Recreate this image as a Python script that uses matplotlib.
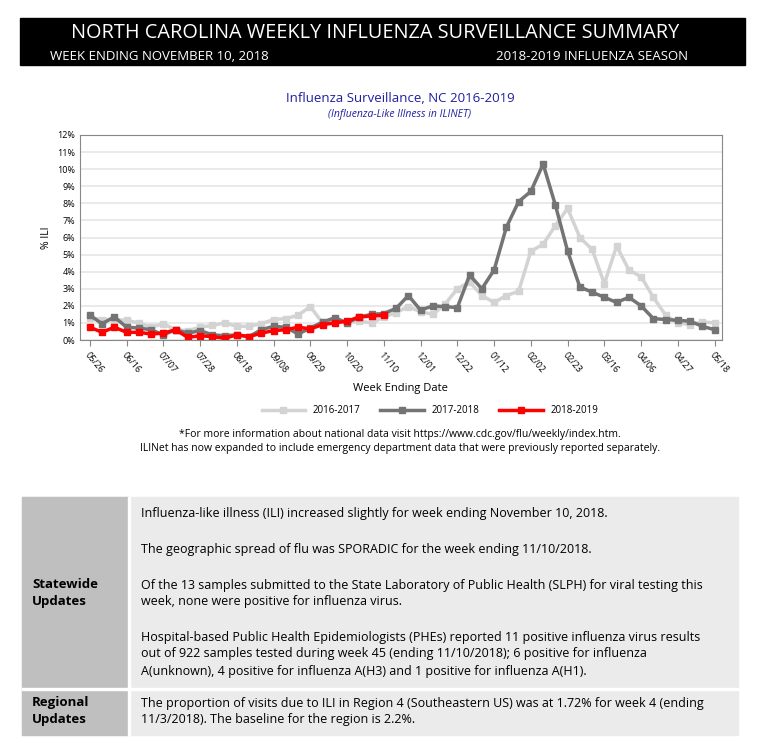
import numpy as np
import matplotlib.pyplot as plt
from matplotlib.patches import Rectangle

plt.rcParams['font.family'] = ['Open Sans', 'DejaVu Sans']

weeks = ['05/26', '06/16', '07/07', '07/28', '08/18', '09/08', '09/29', '10/20', '11/10',
         '12/01', '12/22', '01/12', '02/02', '02/23', '03/16', '04/06', '04/27', '05/18']

ili_2016 = [1.3, 1.2, 1.2, 1.15, 1.0, 0.75, 0.95, 0.6, 0.55, 0.75, 0.85, 1.0, 0.8, 0.8, 0.95, 1.2,
            1.25, 1.45, 1.95, 1.0, 1.2, 1.05, 1.1, 1.0, 1.35, 1.6, 1.95, 1.65, 1.5, 2.1, 3.0, 3.4,
            2.6, 2.2, 2.6, 2.85, 5.2, 5.6, 6.7, 7.7, 6.0, 5.3, 3.3, 5.5, 4.1, 3.7, 2.5, 1.45,
            1.0, 0.9, 1.05, 1.0]
ili_2017 = [1.45, 0.95, 1.35, 0.75, 0.7, 0.6, 0.3, 0.6, 0.4, 0.55, 0.3, 0.25, 0.3, 0.2, 0.6, 0.8,
            0.75, 0.35, 0.7, 1.05, 1.3, 1.0, 1.35, 1.5, 1.55, 1.85, 2.6, 1.75, 2.0, 1.95, 1.9, 3.8,
            3.0, 4.1, 6.6, 8.1, 8.7, 10.3, 7.9, 5.2, 3.1, 2.8, 2.5, 2.2, 2.5, 2.0, 1.25, 1.2,
            1.15, 1.1, 0.8, 0.6]
ili_2018 = [0.75, 0.45, 0.75, 0.45, 0.45, 0.35, 0.4, 0.6, 0.15, 0.25, 0.2, 0.1, 0.3, 0.2, 0.4,
            0.55, 0.6, 0.75, 0.65, 0.9, 1.0, 1.1, 1.35, 1.4, 1.45]

W, H = 764, 743
def fx(x): return x / W
def fy(y): return 1 - y / H

fig = plt.figure(figsize=(W / 100, H / 100), dpi=100)

# header bar
fig.patches.append(Rectangle((fx(20), fy(65)), fx(725), 47 / H, transform=fig.transFigure,
                             color='black', zorder=0))
fig.text(fx(375), fy(33), 'NORTH CAROLINA WEEKLY INFLUENZA SURVEILLANCE SUMMARY', color='white',
         fontsize=14.3, ha='center', va='center')
fig.text(fx(50), fy(56), 'WEEK ENDING NOVEMBER 10, 2018', color='white', fontsize=9.5, va='center')
fig.text(fx(688), fy(56), '2018-2019 INFLUENZA SEASON', color='white', fontsize=9.5, va='center', ha='right')

fig.text(fx(400), fy(99), 'Influenza Surveillance, NC 2016-2019', color='#1f1f9f', fontsize=9.5,
         ha='center', va='center')
fig.text(fx(400), fy(115), '(Influenza-Like Illness in ILINET)', color='#1f1f9f', fontsize=7.5,
         style='italic', ha='center', va='center')

ax = fig.add_axes([fx(80), fy(340), (722 - 80) / W, (340 - 135) / H])
x = np.arange(len(ili_2016))
ax.plot(x, ili_2016, color='#d3d3d3', lw=2.5, marker='s', ms=5, label='2016-2017')
ax.plot(x, ili_2017, color='#747474', lw=2.5, marker='s', ms=5, label='2017-2018')
ax.plot(np.arange(len(ili_2018)), ili_2018, color='#ff0000', lw=2.5, marker='s', ms=5, label='2018-2019')
ax.set_xlim(-0.8, 51.6)
ax.set_ylim(0, 12)
ax.set_yticks(range(13))
ax.set_yticklabels([f'{i}%' for i in range(13)], fontsize=6.5)
ax.set_xticks(np.arange(0, 52, 3))
ax.set_xticklabels(weeks, rotation=-50, ha='left', rotation_mode='anchor', fontsize=6.5)
ax.grid(axis='y', color='#e6e6e6', lw=1.2)
ax.set_axisbelow(True)
for s in ax.spines.values():
    s.set_color('#888888')
ax.tick_params(axis='y', length=0)
ax.tick_params(axis='x', length=4, color='#888888')
ax.set_ylabel('% ILI', fontsize=7.5)
fig.text(fx(400), fy(388), 'Week Ending Date', fontsize=8, ha='center', va='center')
fig.legend(*ax.get_legend_handles_labels(), loc='center', bbox_to_anchor=(fx(430), fy(411)),
           ncol=3, frameon=False, fontsize=7, handlelength=4.5, columnspacing=2)
fig.text(fx(400), fy(434), '*For more information about national data visit https://www.cdc.gov/flu/weekly/index.htm.',
         fontsize=7.5, ha='center', va='center')
fig.text(fx(400), fy(449), 'ILINet has now expanded to include emergency department data that were previously reported separately.',
         fontsize=7.5, ha='center', va='center')

# table
fig.patches.append(Rectangle((fx(22), fy(735)), fx(716), 238 / H, transform=fig.transFigure,
                             color='#ebebeb', zorder=0))
fig.patches.append(Rectangle((fx(22), fy(735)), fx(106), 238 / H, transform=fig.transFigure,
                             color='#bfbfbf', zorder=0))
fig.patches.append(Rectangle((fx(22), fy(690)), fx(716), 2 / H, transform=fig.transFigure,
                             color='white', zorder=0))
fig.patches.append(Rectangle((fx(128), fy(735)), 2 / W, 238 / H, transform=fig.transFigure,
                             color='white', zorder=0))
fig.text(fx(32), fy(593), 'Statewide\nUpdates', fontsize=9.5, weight='bold', va='center', linespacing=1.4)
fig.text(fx(32), fy(711), 'Regional\nUpdates', fontsize=9.5, weight='bold', va='center', linespacing=1.4)
lines = [
    (513, 'Influenza-like illness (ILI) increased slightly for week ending November 10, 2018.'),
    (549, 'The geographic spread of flu was SPORADIC for the week ending 11/10/2018.'),
    (585, 'Of the 13 samples submitted to the State Laboratory of Public Health (SLPH) for viral testing this'),
    (602, 'week, none were positive for influenza virus.'),
    (637, 'Hospital-based Public Health Epidemiologists (PHEs) reported 11 positive influenza virus results'),
    (654, 'out of 922 samples tested during week 45 (ending 11/10/2018); 6 positive for influenza'),
    (671, 'A(unknown), 4 positive for influenza A(H3) and 1 positive for influenza A(H1).'),
    (703, 'The proportion of visits due to ILI in Region 4 (Southeastern US) was at 1.72% for week 4 (ending'),
    (719, '11/3/2018). The baseline for the region is 2.2%.'),
]
for yy, t in lines:
    fig.text(fx(141), fy(yy), t, fontsize=9, va='center')

fig.savefig('out.png', dpi=100)
